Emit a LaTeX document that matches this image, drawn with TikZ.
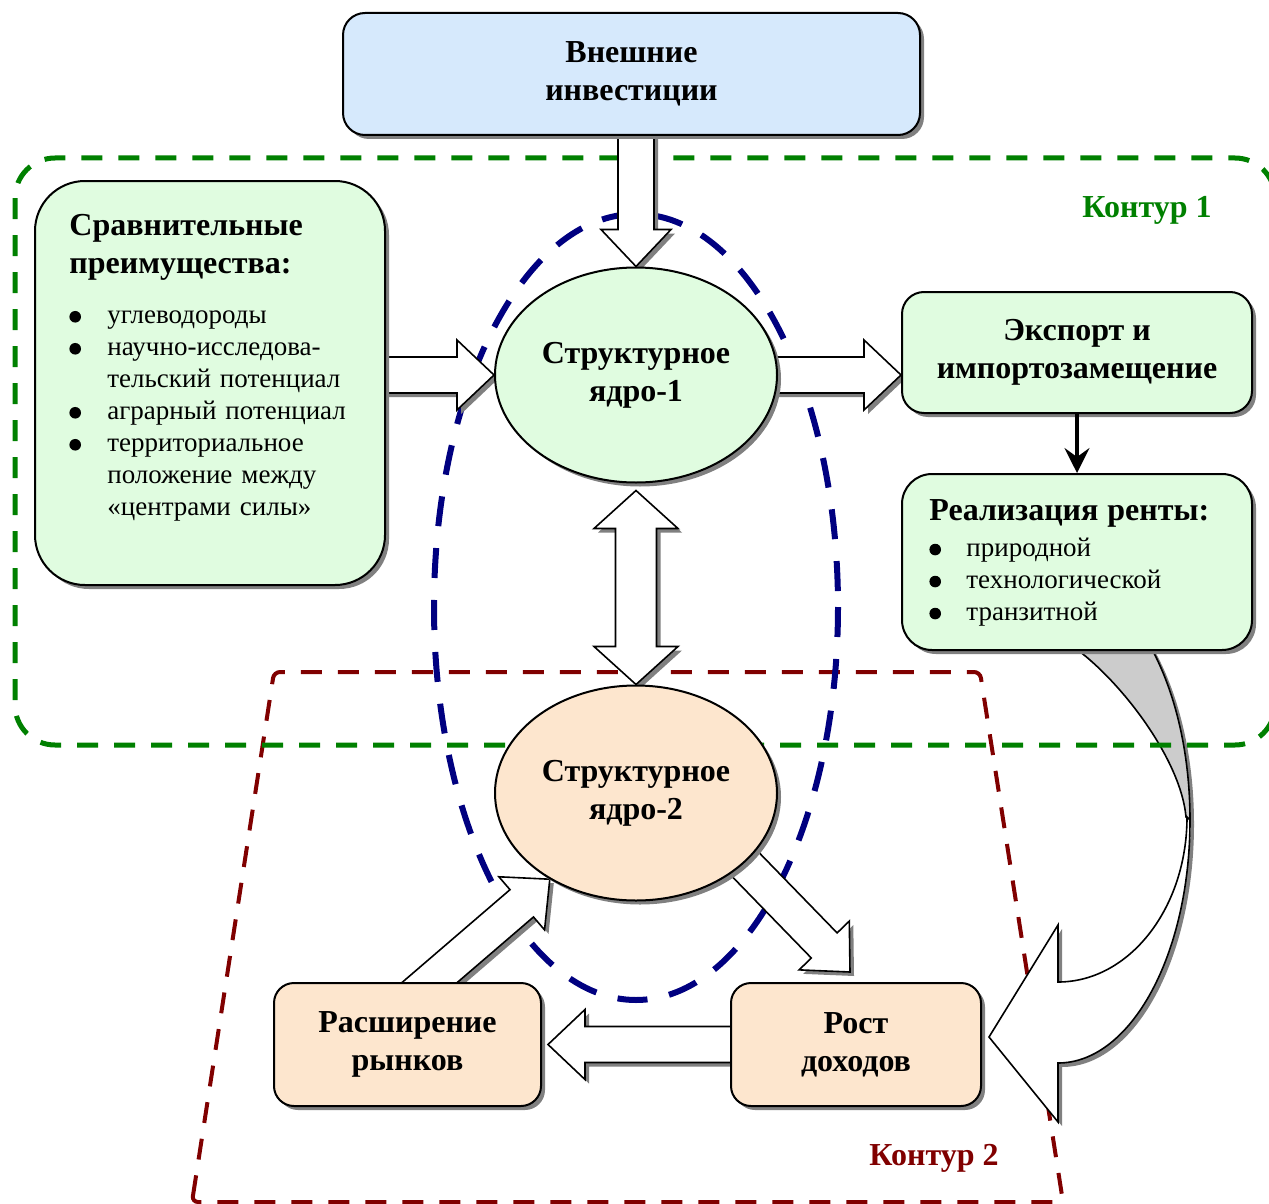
\documentclass[tikz,border=0pt]{standalone}
\usepackage{fontspec}
\setmainfont{Liberation Serif}
\usetikzlibrary{arrows.meta,positioning,shapes.geometric,calc,shadows}
\pgfdeclarelayer{back}
\pgfdeclarelayer{mid}
\pgfsetlayers{back,mid,main}
\definecolor{CTblue}{RGB}{214,233,252}
\definecolor{CTgreen}{RGB}{224,252,224}
\definecolor{CTpeach}{RGB}{253,230,206}
\definecolor{CTshade}{RGB}{128,128,128}
\definecolor{CTback}{RGB}{204,204,204}
\definecolor{CTdkgreen}{RGB}{0,128,0}
\definecolor{CTdkred}{RGB}{128,0,0}
\definecolor{CTnavy}{RGB}{0,0,128}
\tikzset{
  dropsh/.style={drop shadow={shadow xshift=2pt,shadow yshift=-2pt,opacity=1,fill=CTshade}},
  card/.style={dropsh,draw=black,line width=1pt,inner sep=0pt,align=center,
               font=\fontsize{16}{19}\selectfont\bfseries},
  bluecard/.style={card,fill=CTblue,rounded corners=11pt},
  greencard/.style={card,fill=CTgreen,rounded corners=11pt},
  peachcard/.style={card,fill=CTpeach,rounded corners=10pt},
  core/.style={card,ellipse,minimum width=141pt,minimum height=107.5pt},
  listtxt/.style={inner sep=0pt,text width=170pt,align=left,
                  font=\fontsize{13.5}{16}\selectfont},
  conlbl/.style={font=\fontsize{16}{19}\selectfont\bfseries,inner sep=0pt},
  fatarr/.style={dropsh,draw=black,line width=0.8pt,fill=white,line join=miter},
  thinarr/.style={-{Stealth[length=12.5pt,width=12.5pt,inset=4.5pt]},line width=1.6pt},
  cont1/.style={draw=CTdkgreen,line width=2.5pt,dash pattern=on 10.5pt off 8pt,rounded corners=20pt},
  cont2/.style={draw=CTdkred,line width=2pt,dash pattern=on 10.5pt off 8pt,rounded corners=3pt},
  coreline/.style={draw=CTnavy,line width=3pt,dash pattern=on 15pt off 11pt},
}
\newcommand{\titlefont}{\fontsize{16}{19}\selectfont\bfseries}
\newcommand{\dotmark}{\tikz[baseline=-3.4pt]\fill (0,0) circle (2.9pt);}
\newcommand{\itm}[2][19pt]{\par\noindent\makebox[#1][l]{\dotmark}#2}
% fat arrow: shaft half width, head half width, head length
\newcommand{\fsw}{9pt}
\newcommand{\fhw}{17.5pt}
\newcommand{\fhl}{18.5pt}
\newcommand{\fatarrow}[2]{%
  \coordinate (fh) at ($(#2)!\fhl!(#1)$);
  \draw[fatarr] ($(#1)!\fsw!90:(#2)$) -- ($(fh)!\fsw!90:(#2)$)
    -- ($(fh)!\fhw!90:(#2)$) -- (#2) -- ($(fh)!\fhw!-90:(#2)$)
    -- ($(fh)!\fsw!-90:(#2)$) -- ($(#1)!\fsw!-90:(#2)$) -- cycle;}
\newcommand{\fatdouble}[2]{%
  \coordinate (fa) at ($(#1)!19pt!(#2)$);
  \coordinate (fb) at ($(#2)!19pt!(#1)$);
  \draw[fatarr] (#1) -- ($(fa)!21pt!90:(#2)$) -- ($(fa)!10.25pt!90:(#2)$)
    -- ($(fb)!10.25pt!90:(#2)$) -- ($(fb)!21pt!90:(#2)$) -- (#2)
    -- ($(fb)!21pt!-90:(#2)$) -- ($(fb)!10.25pt!-90:(#2)$)
    -- ($(fa)!10.25pt!-90:(#2)$) -- ($(fa)!21pt!-90:(#2)$) -- cycle;}

\begin{document}
\begin{tikzpicture}[x=0.5pt,y=-0.5pt]
  \useasboundingbox (0,0) rectangle (1269,1204);
  % boxes
  \node[bluecard,minimum width=288.5pt,minimum height=61pt] (invest) at (631.5,74) {Внешние\\инвестиции};
  \node[greencard,rounded corners=25pt,minimum width=175pt,minimum height=202pt] (adv) at (210,383) {};
  \node[listtxt,below right=17pt and 17.5pt of adv.north west] (advtxt) {%
    {\titlefont Сравнительные\\преимущества:\par}\vspace{9pt}
    \itm{углеводороды}
    \itm{научно-исследова-\\\hspace*{19pt}тельский потенциал}
    \itm{аграрный потенциал}
    \itm{территориальное\\\hspace*{19pt}положение между\\\hspace*{19pt}«центрами силы»}};
  \node[core,fill=CTgreen] (core1) at (636,375) {Структурное\\ядро-1};
  \node[core,fill=CTpeach] (core2) at (636,793) {Структурное\\ядро-2};
  \node[greencard,minimum width=175pt,minimum height=60.5pt] (export) at (1077,352.5) {Экспорт и\\импортозамещение};
  \node[greencard,rounded corners=15pt,minimum width=175pt,minimum height=88pt] (rent) at (1077,562) {};
  \node[listtxt,below right=13pt and 14pt of rent.north west] (renttxt) {%
    {\titlefont Реализация ренты:\par}\vspace{2pt}
    \itm[18.5pt]{природной}
    \itm[18.5pt]{технологической}
    \itm[18.5pt]{транзитной}};
  \node[peachcard,minimum width=133.5pt,minimum height=61.5pt] (markets) at (407.5,1044.5) {Расширение\\рынков};
  \node[peachcard,minimum width=125pt,minimum height=61.5pt] (growth) at (856,1044.5) {Рост\\доходов};
  \node[conlbl,text=CTdkgreen] (con1) at (1147,210) {Контур 1};
  \node[conlbl,text=CTdkred] (con2) at (934,1158) {Контур 2};
  \draw[thinarr] (export) -- (rent);

  % contours and the bent arrow
  \begin{pgfonlayer}{back}
    \draw[cont2] (192,1202) -- (274,672) -- (980,672) -- (1063,1202) -- cycle;
    \coordinate (bend) at ($(growth.east)+(7,-7.5)$);
    \begin{scope}[shift={(bend)}]
      \draw[fatarr,fill=CTback] (201,-217) arc[start angle=0,end angle=-90,x radius=132,y radius=243]
        -- (82,-392) .. controls (132,-357) and (192,-277) .. (197,-220) -- cycle;
      \draw[fatarr] (201,-217) arc[start angle=0,end angle=90,x radius=132,y radius=243]
        -- (69,85) -- (0,0) -- (69,-112) -- (69,-55)
        arc[start angle=90,end angle=0,x radius=129,y radius=165] -- cycle;
    \end{scope}
    \draw[cont1] (15,158) rectangle (1275,745);
    \draw[coreline] (636,607) ellipse[x radius=202,y radius=393];
  \end{pgfonlayer}

  % fat arrows
  \begin{pgfonlayer}{mid}
    \coordinate (investout) at (invest.center -| core1.north);
    \coordinate (advout) at (adv.center |- core1.west);
    \coordinate (exportin) at (export.west |- core1.east);
    \coordinate (core1low) at ($(core1.south)+(0,7)$);
    \coordinate (core2out) at ($(core2.center)+(40,0)$);
    \coordinate (growthin) at ($(growth.north)+(-6,-10)$);
    \coordinate (marketsout) at ($(markets.center)+(-50,0)$);
    \coordinate (marketsin) at ($(markets.east)+(6,0)$);
    \fatarrow{investout}{core1.north}
    \fatarrow{advout}{core1.west}
    \fatarrow{core1.center}{exportin}
    \fatdouble{core1low}{core2.north}
    \fatarrow{core2out}{growthin}
    \fatarrow{marketsout}{core2.225}
    \fatarrow{growth.center}{marketsin}
  \end{pgfonlayer}
\end{tikzpicture}
\end{document}
